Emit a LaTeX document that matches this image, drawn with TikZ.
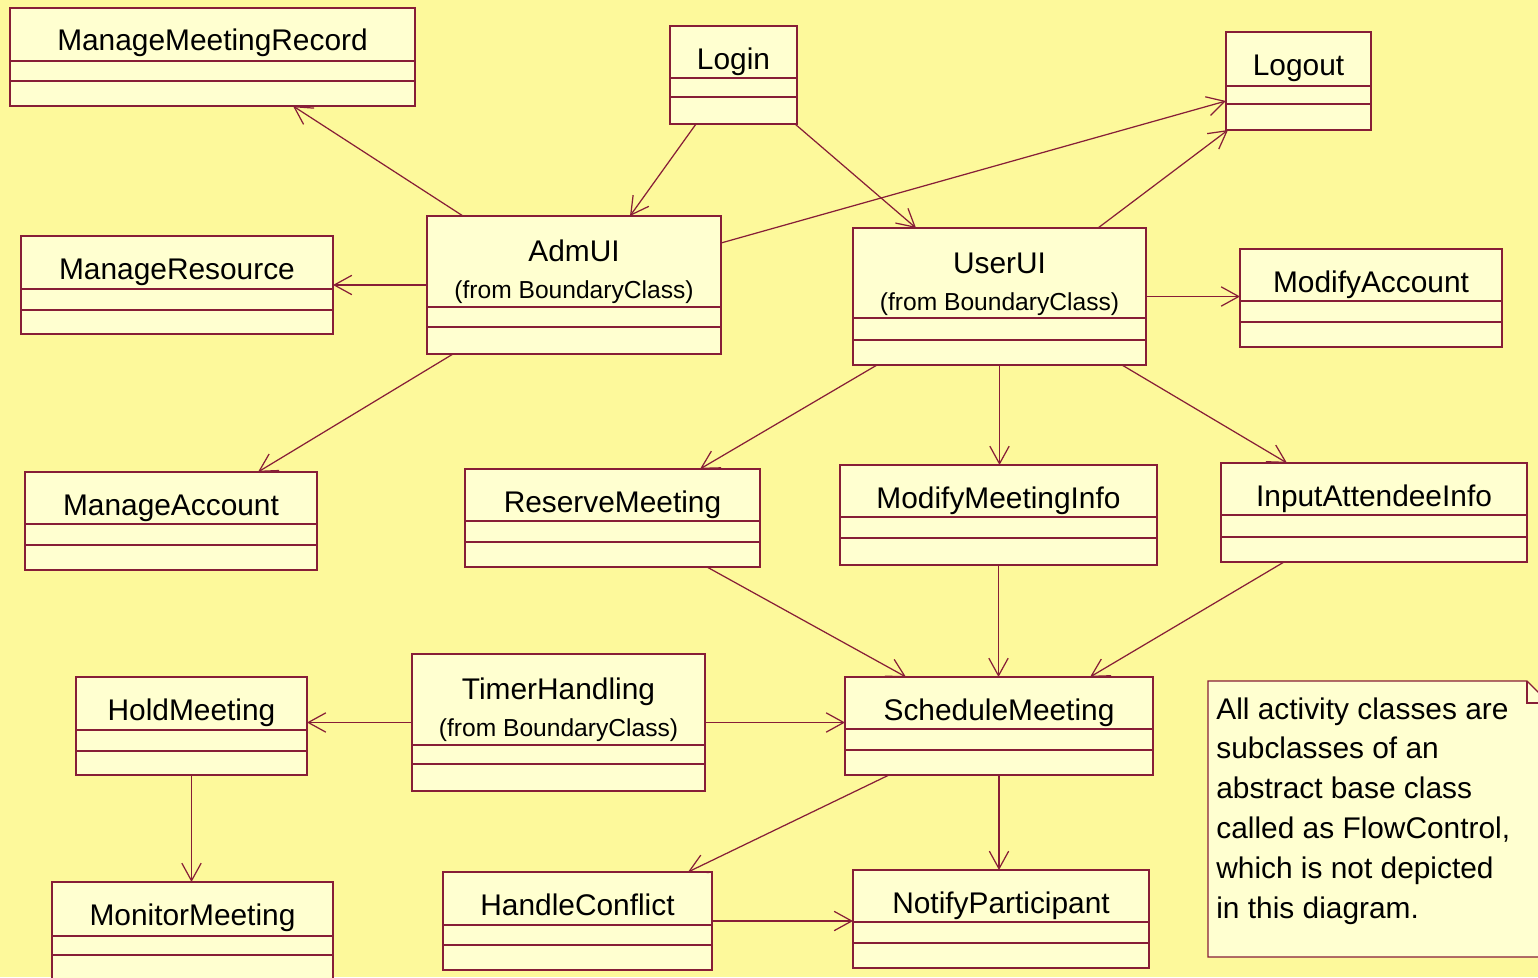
\documentclass[tikz,border=0pt]{standalone}
\usepackage{fontspec}
\setmainfont{Liberation Sans}
\usetikzlibrary{calc}
\usetikzlibrary{arrows.meta}

\definecolor{bgyellow}{RGB}{253,249,155}
\definecolor{boxfill}{RGB}{255,255,208}
\definecolor{umlred}{RGB}{135,30,55}

\tikzset{
  cls/.style={draw=umlred, fill=boxfill, line width=0.7pt, inner sep=0pt, outer sep=0pt},
  clsname/.style={inner sep=0pt, font=\fontsize{17}{20}\selectfont, anchor=base},
  clsfrom/.style={inner sep=0pt, font=\fontsize{14}{16}\selectfont, anchor=base},
  assoc/.style={draw=umlred, line width=0.7pt, -{Straight Barb[length=10pt,width=11pt]}}
}

\begin{document}
\begin{tikzpicture}[x=0.02cm,y=-0.02cm]
\useasboundingbox (0,0) rectangle (1538,977);
\clip (0,0) rectangle (1538,977);
\fill[bgyellow] (0,0) rectangle (1538,977);
% activity classes
\foreach \n/\xa/\ya/\xb/\yb/\ha/\hb/\txt in {mmr/10/8/415/106/61/81/ManageMeetingRecord,
  login/670/26/797/124/78/97/Login, logout/1226/32/1371/130/86/104/Logout,
  mres/21/236/333/334/289/310/ManageResource, modacc/1240/249/1502/347/301/322/ModifyAccount,
  macc/25/472/317/570/524/545/ManageAccount, reserve/465/469/760/567/521/542/ReserveMeeting,
  modinfo/840/465/1157/565/517/538/ModifyMeetingInfo, input/1221/463/1527/562/515/537/InputAttendeeInfo,
  hold/76/677/307/775/730/751/HoldMeeting, sched/845/677/1153/775/729/750/ScheduleMeeting,
  monitor/52/882/333/1000/936/955/MonitorMeeting, handle/443/872/712/970/925/945/HandleConflict,
  notify/853/870/1149/968/922/943/NotifyParticipant} {
\node (\n) [cls, minimum width={(\xb-\xa)*0.02cm}, minimum height={(\yb-\ya)*0.02cm}] at ({(\xa+\xb)/2},{(\ya+\yb)/2}) {};
\node (\n-t) [clsname] at ({(\xa+\xb)/2},{\ya+43}) {\txt};
\draw[umlred, line width=0.7pt] (\xa,\ha) -- (\xb,\ha) (\xa,\hb) -- (\xb,\hb);
}
% boundary classes
\foreach \n/\xa/\ya/\xb/\yb/\ha/\hb/\txt in {adm/427/216/721/354/307/327/AdmUI,
  user/853/228/1146/365/318/340/UserUI, timer/412/654/705/791/745/764/TimerHandling} {
\node (\n) [cls, minimum width={(\xb-\xa)*0.02cm}, minimum height={(\yb-\ya)*0.02cm}] at ({(\xa+\xb)/2},{(\ya+\yb)/2}) {};
\node (\n-t) [clsname] at ({(\xa+\xb)/2},{\ya+45}) {\txt};
\node (\n-f) [clsfrom] at ({(\xa+\xb)/2},{\ya+82}) {(from BoundaryClass)};
\draw[umlred, line width=0.7pt] (\xa,\ha) -- (\xb,\ha) (\xa,\hb) -- (\xb,\hb);
}
% note
\draw[cls] (1208,681) -- (1527,681) -- (1549,703) -- (1549,957) -- (1208,957) -- cycle;
\draw[umlred, line width=0.7pt] (1527,681) -- (1527,703) -- (1549,703);
\node (note) [anchor=north west, align=left, inner sep=0pt, font=\fontsize{17}{22.7}\selectfont] at (1216,697)
  {All activity classes are\\subclasses of an\\abstract base class\\called as FlowControl,\\which is not depicted\\in this diagram.};
% associations
\draw[assoc] ($(adm.north west)+(36,0)$) -- ($(mmr.south west)+(283,0)$);
\draw[assoc] (adm.west) -- (mres.east |- adm.west);
\draw[assoc] ($(adm.south west)+(26,0)$) -- ($(macc.north west)+(233,0)$);
\draw[assoc] ($(login.south west)+(26,0)$) -- ($(adm.north west)+(203,0)$);
\draw[assoc] ($(login.south east)+(-2,0)$) -- ($(user.north west)+(63,0)$);
\draw[assoc] ($(adm.north east)+(0,27)$) -- ($(logout.north west)+(0,69)$);
\draw[assoc] ($(user.north east)+(-48,0)$) -- ($(logout.south west)+(2,0)$);
\draw[assoc] (user.east) -- (modacc.west |- user.east);
\draw[assoc] ($(user.south west)+(24,0)$) -- ($(reserve.north west)+(235,0)$);
\draw[assoc] (user.south) -- (user.south |- modinfo.north);
\draw[assoc] ($(user.south east)+(-24,0)$) -- ($(input.north west)+(66,0)$);
\draw[assoc] ($(reserve.south west)+(242,0)$) -- ($(sched.north west)+(61,0)$);
\draw[assoc] (modinfo.south) -- (modinfo.south |- sched.north);
\draw[assoc] ($(input.south west)+(63,0)$) -- ($(sched.north west)+(245,0)$);
\draw[assoc] (timer.west) -- (hold.east |- timer.west);
\draw[assoc] (timer.east) -- (sched.west |- timer.east);
\draw[assoc] (hold.south) -- (hold.south |- monitor.north);
\draw[assoc] ($(sched.south west)+(44,0)$) -- ($(handle.north west)+(245,0)$);
\draw[assoc] (sched.south) -- (sched.south |- notify.north);
\draw[assoc] (handle.east) -- (notify.west |- handle.east);
\end{tikzpicture}
\end{document}
